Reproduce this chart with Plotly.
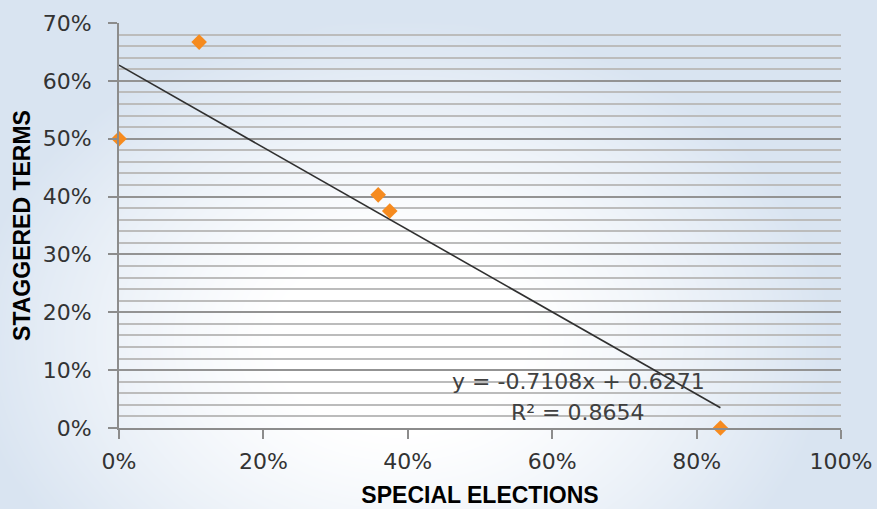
import numpy as np
import plotly.graph_objects as go

# Share of special elections vs. share of staggered terms
special_elections = [0.0, 0.111, 0.359, 0.375, 0.833]
staggered_terms = [0.500, 0.667, 0.403, 0.375, 0.0]

# Linear trendline coefficients
slope = -0.7108
intercept = 0.6271
r_squared = 0.8654

x_ticks = [0, 0.2, 0.4, 0.6, 0.8, 1.0]
y_ticks = [0, 0.1, 0.2, 0.3, 0.4, 0.5, 0.6, 0.7]

W, H = 877, 509
PL, PR, PT, PB = 119, 841, 23, 428  # plot box in pixels

fig = go.Figure()

# Soft blue-to-white backdrop behind the whole figure
gx = np.linspace(0, W, 90)
gy = np.linspace(0, H, 52)
GX, GY = np.meshgrid(gx, gy)
cx, cy = 400, H - 340
t = np.sqrt(((GX - cx) / 430) ** 2 + ((GY - cy) / 320) ** 2)
shade = np.clip((t - 0.28) / 0.72, 0, 1) ** 1.2
fig.add_trace(go.Heatmap(
    x=gx, y=gy, z=shade, zmin=0, zmax=1, zsmooth="best",
    colorscale=[[0, "#ffffff"], [1, "#d9e4f1"]], showscale=False,
    hoverinfo="skip", xaxis="x", yaxis="y",
))

# Trendline over the range of the data
x_fit = np.array([min(special_elections), max(special_elections)])
fig.add_trace(go.Scatter(
    x=x_fit, y=slope * x_fit + intercept, mode="lines",
    line=dict(color="#303030", width=1.6), showlegend=False,
    hoverinfo="skip", xaxis="x2", yaxis="y2",
))

fig.add_trace(go.Scatter(
    x=special_elections, y=staggered_terms, mode="markers",
    marker=dict(symbol="diamond", size=12, color="#F68B1F",
                line=dict(width=0)),
    cliponaxis=False, showlegend=False, xaxis="x2", yaxis="y2",
))

tick_font = dict(family="DejaVu Sans", size=22, color="#333333")
title_font = dict(family="Liberation Sans", size=23, color="#000000")

fig.add_annotation(
    x=0.636, y=0.080, xref="x2", yref="y2", showarrow=False,
    text=f"y = {slope:.4f}x + {intercept:.4f}",
    font=dict(family="DejaVu Sans", size=22, color="#404040"),
)
fig.add_annotation(
    x=0.636, y=0.027, xref="x2", yref="y2", showarrow=False,
    text=f"R² = {r_squared:.4f}",
    font=dict(family="DejaVu Sans", size=22, color="#404040"),
)

fig.update_layout(
    width=W, height=H,
    margin=dict(l=0, r=0, t=0, b=0, autoexpand=False),
    paper_bgcolor="#e3ebf5",
    plot_bgcolor="rgba(0,0,0,0)",
    xaxis=dict(domain=[0, 1], range=[0, W], visible=False, fixedrange=True),
    yaxis=dict(domain=[0, 1], range=[0, H], visible=False, fixedrange=True),
    xaxis2=dict(
        domain=[PL / W, PR / W], anchor="y2", range=[0, 1],
        tickvals=x_ticks, tickformat=".0%", automargin=False,
        showgrid=False, zeroline=False,
        showline=True, linecolor="#8c8c8c", linewidth=2,
        ticks="outside", ticklen=9, tickwidth=2, tickcolor="#8c8c8c",
        tickfont=tick_font, ticklabelstandoff=4,
        title=dict(text="<b>SPECIAL ELECTIONS</b>", font=title_font, standoff=13),
    ),
    yaxis2=dict(
        domain=[(H - PB) / H, (H - PT) / H], anchor="x2", range=[0, 0.7],
        tickvals=y_ticks, tickformat=".0%", automargin=False,
        showgrid=True, gridcolor="#939393", gridwidth=2,
        minor=dict(dtick=0.02, showgrid=True, gridcolor="#bcbcbc", gridwidth=1.8),
        zeroline=False,
        showline=True, linecolor="#8c8c8c", linewidth=2,
        ticks="outside", ticklen=9, tickwidth=2, tickcolor="#8c8c8c",
        tickfont=tick_font, ticklabelstandoff=12,
        title=dict(text="<b>STAGGERED TERMS</b>", font=title_font, standoff=6),
    ),
)

fig.write_html("out.html")
